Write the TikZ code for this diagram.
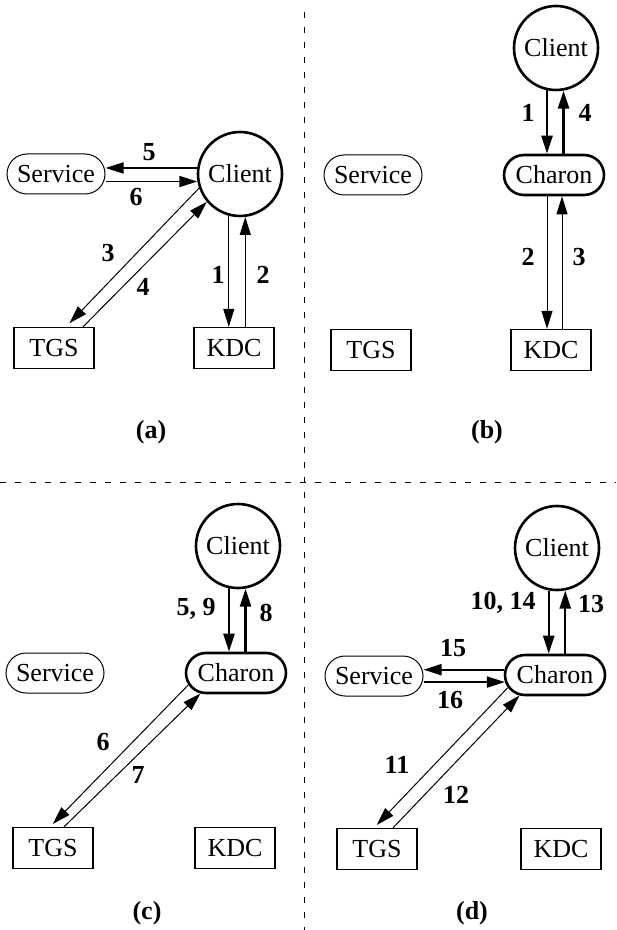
\documentclass[tikz,border=0pt]{standalone}
\usepackage{fontspec}
\setmainfont{Liberation Serif}
\usetikzlibrary{arrows.meta,shapes.misc}
\newcommand\boxw{40pt}
\newcommand\boxh{20.5pt}
\newcommand\pillw{49pt}
\newcommand\hubw{50pt}
\newcommand\pillh{20pt}
\newcommand\clid{42pt}
\newcommand\txtsize{\fontsize{13}{15}\selectfont}

\begin{document}
\begin{tikzpicture}[x=0.5pt,y=-0.5pt,
    every node/.style={font=\txtsize},
    srv/.style={draw,line width=0.5pt,rounded rectangle,minimum width=\pillw,minimum height=\pillh,inner sep=0pt},
    hub/.style={draw,line width=1.3pt,rounded rectangle,minimum width=\hubw,minimum height=\pillh,inner sep=0pt},
    cli/.style={draw,circle,line width=1.3pt,minimum size=\clid,inner sep=0pt},
    box/.style={draw,line width=0.65pt,minimum width=\boxw,minimum height=\boxh,inner sep=0pt},
    num/.style={font=\txtsize\bfseries},
    msg/.style={-{Triangle[length=9pt,width=5.5pt]},line width=0.5pt},
    msgm/.style={msg,line width=0.9pt},
    msgt/.style={msg,line width=1.2pt},
    divider/.style={line width=0.5pt,dash pattern=on 3pt off 4.5pt}]
    \useasboundingbox (0,0) rectangle (616,930);
    \draw[divider] (304,12) -- (304,930);
    \draw[divider] (0,482) -- (616,482);

    \begin{scope}
      \node[srv] (srvA) at (56,174) {Service};
      \node[cli] (cliA) at (240,174) {Client};
      \node[box] (tgsA) at (54,348) {TGS};
      \node[box] (kdcA) at (234,348) {KDC};

      \draw[msgm] (cliA.172) -- (cliA.172 -| srvA.east);
      \draw[msgm] (srvA.east |- cliA.190) -- (cliA.190);
      \draw[msg] (cliA.255) -- (cliA.255 |- kdcA.north);
      \draw[msg] (cliA.277 |- kdcA.north) -- (cliA.277);
      \draw[msg,shorten >=2.5pt] (cliA.199) -- ([xshift=6pt]tgsA.north);
      \draw[msg] ([xshift=14.5pt]tgsA.north) -- (cliA.220);

      \node[num] (n5a) at (149,152) {5};
      \node[num] (n6a) at (136,197) {6};
      \node[num] (n3a) at (108,253) {3};
      \node[num] (n4a) at (143,287) {4};
      \node[num] (n1a) at (218,275) {1};
      \node[num] (n2a) at (263,275) {2};
      \node[num] (capA) at (151,432) {(a)};
    \end{scope}

    \begin{scope}[shift={(304,0)}]
      \node[cli] (cliB) at (252,48) {Client};
      \node[hub] (hubB) at (250,175) {Charon};
      \node[srv] (srvB) at (69,175) {Service};
      \node[box] (tgsB) at (67,350) {TGS};
      \node[box] (kdcB) at (247,350) {KDC};

      \coordinate (dnB) at ([xshift=-3.5pt]hubB.south);
      \coordinate (upB) at ([xshift=4pt]hubB.south);
      \draw[msgt] (cliB.258) -- (cliB.258 |- hubB.north);
      \draw[msgt] (cliB.280 |- hubB.north) -- (cliB.280);
      \draw[msg] (dnB) -- (dnB |- kdcB.north);
      \draw[msg] (upB |- kdcB.north) -- (upB);

      \node[num] (n1b) at (224,113) {1};
      \node[num] (n4b) at (281,113) {4};
      \node[num] (n2b) at (224,257) {2};
      \node[num] (n3b) at (275,257) {3};
      \node[num] (capB) at (183,432) {(b)};
    \end{scope}

    \begin{scope}[shift={(0,482)}]
      \node[cli] (cliC) at (238,64) {Client};
      \node[hub] (hubC) at (236,191) {Charon};
      \node[srv] (srvC) at (55,191) {Service};
      \node[box] (tgsC) at (53,366) {TGS};
      \node[box] (kdcC) at (235,366) {KDC};

      \draw[msgt] (cliC.258) -- (cliC.258 |- hubC.north);
      \draw[msgt] (cliC.280 |- hubC.north) -- (cliC.280);
      \draw[msg,shorten >=2pt] (hubC.194) -- ([xshift=-1.5pt]tgsC.north);
      \draw[msg] ([xshift=5.5pt]tgsC.north) -- (hubC.210);

      \node[num] (n59c) at (196,127) {5, 9};
      \node[num] (n8c) at (266,131) {8};
      \node[num] (n6c) at (103,260) {6};
      \node[num] (n7c) at (138,293) {7};
      \node[num] (capC) at (147,431) {(c)};
    \end{scope}

    \begin{scope}[shift={(304,482)}]
      \node[cli] (cliD) at (253,66) {Client};
      \node[hub] (hubD) at (251,193) {Charon};
      \node[srv] (srvD) at (70,194) {Service};
      \node[box] (tgsD) at (73,367) {TGS};
      \node[box] (kdcD) at (257,367) {KDC};

      \draw[msgt] (cliD.259) -- (cliD.259 |- hubD.north);
      \draw[msgt] (cliD.281 |- hubD.north) -- (cliD.281);
      \draw[msgm] (hubD.174) -- (hubD.174 -| srvD.east);
      \draw[msgm] (srvD.east |- hubD.188) -- (hubD.188);
      \draw[msg,shorten >=2pt] (hubD.195) -- ([xshift=-1.5pt]tgsD.north);
      \draw[msg] ([xshift=8pt]tgsD.north) -- (hubD.210);

      \node[num] (n1014d) at (199,121) {10, 14};
      \node[num] (n13d) at (287,122) {13};
      \node[num] (n15d) at (149,166) {15};
      \node[num] (n16d) at (146,218) {16};
      \node[num] (n11d) at (93,283) {11};
      \node[num] (n12d) at (152,313) {12};
      \node[num] (capD) at (168,431) {(d)};
    \end{scope}
  \end{tikzpicture}
\end{document}
